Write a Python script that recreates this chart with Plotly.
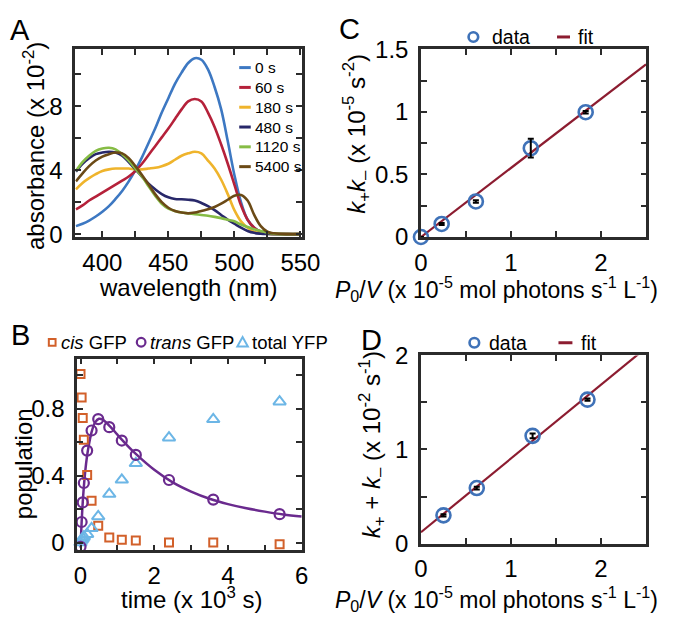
import plotly.graph_objects as go

W, H = 677, 629
FONT = "Liberation Sans, Arial, Helvetica, sans-serif"

# ---------------- Panel A data ----------------
wl = [380, 385, 390, 395, 400, 405, 410, 415, 420, 425, 430, 435, 440, 445, 450, 455, 460, 465,
      470, 475, 480, 485, 490, 495, 500, 505, 510, 515, 520, 525, 530, 540, 550]
abs_0s = [0.5, 0.65, 0.85, 1.1, 1.4, 1.75, 2.2, 2.7, 3.3, 4.0, 4.8, 5.7, 6.6, 7.6, 8.5, 9.4, 10.1, 10.7,
          11.0, 10.9, 10.3, 9.2, 7.8, 5.8, 3.7, 2.0, 0.9, 0.4, 0.15, 0.06, 0.02, 0.0, 0.0]
abs_60s = [1.55, 1.8, 2.1, 2.35, 2.6, 2.85, 3.1, 3.35, 3.6, 3.95, 4.4, 4.95, 5.5, 6.05, 6.6, 7.2, 7.8, 8.3,
           8.45, 8.3, 7.6, 6.7, 5.6, 4.4, 3.1, 1.8, 0.9, 0.4, 0.15, 0.05, 0.02, 0.0, 0.0]
abs_180s = [2.8, 3.2, 3.5, 3.75, 3.95, 4.05, 4.1, 4.1, 4.1, 4.05, 4.05, 4.1, 4.15, 4.25, 4.4, 4.65, 4.9, 5.05,
            5.15, 5.05, 4.6, 4.1, 3.4, 2.5, 1.5, 0.8, 0.4, 0.15, 0.05, 0.02, 0.0, 0.0, 0.0]
abs_480s = [3.9, 4.4, 4.75, 5.0, 5.1, 5.15, 5.1, 4.9, 4.5, 4.05, 3.6, 3.15, 2.8, 2.5, 2.3, 2.2, 2.18, 2.15,
            2.1, 1.95, 1.75, 1.5, 1.2, 0.9, 0.65, 0.4, 0.2, 0.08, 0.03, 0.01, 0.0, 0.0, 0.0]
abs_1120s = [3.95, 4.5, 4.9, 5.2, 5.35, 5.4, 5.3, 5.0, 4.6, 4.1, 3.6, 3.0, 2.4, 1.9, 1.6, 1.45, 1.35, 1.3,
             1.25, 1.2, 1.15, 1.08, 1.0, 0.9, 0.8, 0.6, 0.45, 0.3, 0.2, 0.1, 0.03, 0.0, 0.0]
abs_5400s = [3.3, 3.8, 4.25, 4.6, 4.85, 5.0, 5.1, 5.05, 4.75, 4.25, 3.7, 3.1, 2.5, 2.0, 1.65, 1.45, 1.35, 1.3,
             1.35, 1.45, 1.55, 1.7, 1.9, 2.15, 2.4, 2.45, 2.1, 1.2, 0.5, 0.15, 0.05, 0.0, 0.0]
spectra_names = ["0 s", "60 s", "180 s", "480 s", "1120 s", "5400 s"]
spectra_colors = ["#3d78c2", "#b5213a", "#efb42c", "#28286a", "#86bc45", "#6b4a16"]
a_xticks = [400, 425, 450, 475, 500, 525, 550]
a_xticktext = ["400", "", "450", "", "500", "", "550"]
a_yticks = [0, 2, 4, 6, 8, 10]
a_yticktext = ["0", "", "4", "", "8", ""]

# ---------------- Panel B data ----------------
t_kin = [0.0, 0.03, 0.06, 0.09, 0.18, 0.3, 0.48, 0.78, 1.12, 1.5, 2.4, 3.6, 5.4]
cis_gfp = [1.007, 0.867, 0.745, 0.615, 0.404, 0.25, 0.1, 0.03, 0.017, 0.013, 0.0, 0.0, -0.01]
trans_gfp = [-0.025, 0.123, 0.24, 0.356, 0.55, 0.67, 0.738, 0.69, 0.61, 0.524, 0.374, 0.257, 0.17]
total_yfp = [0.0, 0.015, 0.025, 0.035, 0.05, 0.085, 0.156, 0.29, 0.375, 0.474, 0.627, 0.737, 0.842]
t_fit = [0.0, 0.03, 0.06, 0.1, 0.15, 0.2, 0.3, 0.4, 0.5, 0.6, 0.8, 1.0, 1.25, 1.5, 2.0, 2.5, 3.0,
         3.5, 4.0, 4.5, 5.0, 5.5, 6.0]
trans_fit = [-0.03, 0.12, 0.24, 0.36, 0.47, 0.55, 0.66, 0.72, 0.74, 0.735, 0.695, 0.645, 0.585,
             0.53, 0.435, 0.36, 0.305, 0.262, 0.23, 0.205, 0.185, 0.168, 0.156]
b_xticks = [0, 1, 2, 3, 4, 5, 6]
b_xticktext = ["0", "", "2", "", "4", "", "6"]
b_yticks = [0, 0.2, 0.4, 0.6, 0.8, 1.0]
b_yticktext = ["0", "", "0.4", "", "0.8", ""]

# ---------------- Panel C data ----------------
c_x = [0.0, 0.23, 0.61, 1.22, 1.83]
c_y = [0.0, 0.104, 0.284, 0.71, 0.998]
c_err = [0.0, 0.008, 0.01, 0.075, 0.01]
c_fit_x = [0.0, 2.5]
c_fit_y = [0.0, 1.38]
c_xticks = [0, 0.5, 1, 1.5, 2, 2.5]
c_xticktext = ["0", "", "1", "", "2", ""]
c_yticks = [0, 0.25, 0.5, 0.75, 1.0, 1.25, 1.5]
c_yticktext = ["0", "", "0.5", "", "1", "", "1.5"]

# ---------------- Panel D data ----------------
d_x = [0.25, 0.62, 1.24, 1.85]
d_y = [0.3, 0.59, 1.145, 1.53]
d_err = [0.012, 0.015, 0.025, 0.012]
d_fit_x = [0.0, 2.5]
d_fit_y = [0.12, 2.08]
d_xticks = [0, 0.5, 1, 1.5, 2, 2.5]
d_xticktext = ["0", "", "1", "", "2", ""]
d_yticks = [0, 0.5, 1, 1.5, 2]
d_yticktext = ["0", "", "1", "", "2"]

AXC = "#2b2b2b"
DATA_BLUE = "#3f72b8"
FIT_RED = "#8c1c30"
ORANGE = "#d2602a"
PURPLE = "#6a2a8e"
LIGHTBLUE = "#6cb6e6"


def px_x(p):
    return p / W


def px_y(p):
    return 1 - p / H


def axis(dom, rng, tv, tt, anchor, is_y):
    d = dict(domain=dom, range=rng, anchor=anchor, tickmode="array", tickvals=tv, ticktext=tt,
             showline=True, linecolor=AXC, linewidth=2.5, mirror="allticks", ticks="inside",
             ticklen=6, tickwidth=2, tickcolor=AXC, showgrid=False, zeroline=False,
             tickfont=dict(size=24, color="black", family=FONT), fixedrange=True)
    d["ticklabelstandoff"] = 5 if is_y else 2
    return d


fig = go.Figure()

# Panel A
for name, ys, col in zip(spectra_names, [abs_0s, abs_60s, abs_180s, abs_480s, abs_1120s, abs_5400s],
                         spectra_colors):
    fig.add_trace(go.Scatter(x=wl, y=ys, mode="lines", line=dict(color=col, width=2.6, shape="spline"),
                             xaxis="x", yaxis="y", showlegend=False, name=name))

# Panel B
fig.add_trace(go.Scatter(x=t_fit, y=trans_fit, mode="lines", line=dict(color=PURPLE, width=2.5, shape="spline"),
                         xaxis="x2", yaxis="y2", showlegend=False))
fig.add_trace(go.Scatter(x=t_kin, y=cis_gfp, mode="markers", cliponaxis=False,
                         marker=dict(symbol="square-open", size=8, color=ORANGE, line=dict(width=2, color=ORANGE)),
                         xaxis="x2", yaxis="y2", showlegend=False))
fig.add_trace(go.Scatter(x=t_kin, y=total_yfp, mode="markers", cliponaxis=False,
                         marker=dict(symbol="triangle-up-open", size=11, color=LIGHTBLUE,
                                     line=dict(width=2, color=LIGHTBLUE)),
                         xaxis="x2", yaxis="y2", showlegend=False))
fig.add_trace(go.Scatter(x=t_kin, y=trans_gfp, mode="markers", cliponaxis=False,
                         marker=dict(symbol="circle-open", size=10, color=PURPLE, line=dict(width=2.2, color=PURPLE)),
                         xaxis="x2", yaxis="y2", showlegend=False))

# Panel C
fig.add_trace(go.Scatter(x=c_fit_x, y=c_fit_y, mode="lines", line=dict(color=FIT_RED, width=2.2),
                         xaxis="x3", yaxis="y3", showlegend=False))
fig.add_trace(go.Scatter(x=c_x, y=c_y, mode="markers", cliponaxis=False,
                         marker=dict(symbol="circle-open", size=14, color=DATA_BLUE, line=dict(width=2.6, color=DATA_BLUE)),
                         xaxis="x3", yaxis="y3", showlegend=False))
fig.add_trace(go.Scatter(x=c_x, y=c_y, mode="markers", cliponaxis=False,
                         marker=dict(size=0.1, color="black"),
                         error_y=dict(type="data", array=c_err, color="black", thickness=2, width=3),
                         xaxis="x3", yaxis="y3", showlegend=False))

# Panel D
fig.add_trace(go.Scatter(x=d_fit_x, y=d_fit_y, mode="lines", line=dict(color=FIT_RED, width=2.2),
                         xaxis="x4", yaxis="y4", showlegend=False))
fig.add_trace(go.Scatter(x=d_x, y=d_y, mode="markers", cliponaxis=False,
                         marker=dict(symbol="circle-open", size=14, color=DATA_BLUE, line=dict(width=2.6, color=DATA_BLUE)),
                         xaxis="x4", yaxis="y4", showlegend=False))
fig.add_trace(go.Scatter(x=d_x, y=d_y, mode="markers", cliponaxis=False,
                         marker=dict(size=0.1, color="black"),
                         error_y=dict(type="data", array=d_err, color="black", thickness=2, width=3),
                         xaxis="x4", yaxis="y4", showlegend=False))

domA_x = [px_x(71), px_x(306.5)]
domA_y = [px_y(233), px_y(37)]
domB_x = [px_x(73), px_x(306.5)]
domB_y = [px_y(560.5), px_y(360)]
domC_x = [px_x(430.5), px_x(665)]
domC_y = [px_y(233), px_y(37)]
domD_x = [px_x(430.5), px_x(665)]
domD_y = [px_y(553.3), px_y(356.7)]

layout = dict(
    width=W, height=H, margin=dict(l=0, r=0, t=0, b=0),
    paper_bgcolor="white", plot_bgcolor="white",
    font=dict(family=FONT, color="black", size=24),
    showlegend=False,
    xaxis=axis(domA_x, [379.5, 551], a_xticks, a_xticktext, "y", False),
    yaxis=axis(domA_y, [-0.18, 11.55], a_yticks, a_yticktext, "x", True),
    xaxis2=axis(domB_x, [-0.09, 6], b_xticks, b_xticktext, "y2", False),
    yaxis2=axis(domB_y, [-0.047, 1.1], b_yticks, b_yticktext, "x2", True),
    xaxis3=axis(domC_x, [0, 2.505], c_xticks, c_xticktext, "y3", False),
    yaxis3=axis(domC_y, [0, 1.5], c_yticks, c_yticktext, "x3", True),
    xaxis4=axis(domD_x, [0, 2.505], d_xticks, d_xticktext, "y4", False),
    yaxis4=axis(domD_y, [0, 2.0], d_yticks, d_yticktext, "x4", True),
)
fig.update_layout(**layout)

ann = []
shapes = []


def text(x, y, s, size=24, angle=0, xanchor="center"):
    ann.append(dict(x=px_x(x), y=px_y(y), xref="paper", yref="paper", text=s, showarrow=False,
                    font=dict(size=size, family=FONT, color="black"), textangle=angle,
                    xanchor=xanchor, yanchor="middle"))


# panel letters
text(14, 17, "A", 29)
text(14, 335, "B", 29)
text(356, 16, "C", 29)
text(379, 341, "D", 29)

# axis titles
text(28, 138, "absorbance (x 10<sup>-2</sup>)", 24, -90)
text(188, 286, "wavelength (nm)", 24)
text(17, 470, "population", 24, -90)
text(192, 610, "time (x 10<sup>3</sup> s)", 24)
text(363, 125, "<i>k</i><sub>+</sub><i>k</i><sub>\u2013</sub> (x 10<sup>-5</sup> s<sup>-2</sup>)", 24, -90)
text(509, 287, "<i>P</i><sub>0</sub>/<i>V</i> (x 10<sup>-5</sup> mol photons s<sup>-1</sup> L<sup>-1</sup>)", 23)
text(379, 450, "<i>k</i><sub>+</sub> + <i>k</i><sub>\u2013</sub> (x 10<sup>-2</sup> s<sup>-1</sup>)", 24, -90)
text(509, 611, "<i>P</i><sub>0</sub>/<i>V</i> (x 10<sup>-5</sup> mol photons s<sup>-1</sup> L<sup>-1</sup>)", 23)

# Panel A legend
leg_y0, leg_dy = 56, 20.7
for i, (name, col) in enumerate(zip(spectra_names, spectra_colors)):
    yy = leg_y0 + i * leg_dy
    shapes.append(dict(type="line", xref="paper", yref="paper", x0=px_x(241.5), x1=px_x(253.5),
                       y0=px_y(yy), y1=px_y(yy), line=dict(color=col, width=3)))
    text(255.5, yy, name, 15.5, 0, "left")

# Panel B legend (above plot)
ly = 343
shapes.append(dict(type="rect", xref="paper", yref="paper", x0=px_x(43.5), x1=px_x(50.5),
                   y0=px_y(346.5), y1=px_y(339.5), line=dict(color=ORANGE, width=2)))
text(54, ly, "<i>cis</i> GFP", 18.5, 0, "left")
shapes.append(dict(type="circle", xref="paper", yref="paper", x0=px_x(135), x1=px_x(144),
                   y0=px_y(347.5), y1=px_y(338.5), line=dict(color=PURPLE, width=2.2)))
text(147, ly, "<i>trans</i> GFP", 18.5, 0, "left")
shapes.append(dict(type="path", xref="paper", yref="paper",
                   path="M {:.5f} {:.5f} L {:.5f} {:.5f} L {:.5f} {:.5f} Z".format(
                       px_x(239.5), px_y(347.5), px_x(250.5), px_y(347.5), px_x(245), px_y(337.5)),
                   line=dict(color=LIGHTBLUE, width=2)))
text(253, ly, "total YFP", 18.5, 0, "left")

# Panels C and D legends
for (cy, cx, lx0, lx1, tx, fx) in [(24, 485, 572, 585.5, 502, 591.5), (343.5, 486, 573.5, 588, 499, 594.5)]:
    shapes.append(dict(type="circle", xref="paper", yref="paper", x0=px_x(cx - 5), x1=px_x(cx + 5),
                       y0=px_y(cy + 5), y1=px_y(cy - 5), line=dict(color=DATA_BLUE, width=2.6)))
    text(tx, cy, "data", 19.5, 0, "left")
    shapes.append(dict(type="line", xref="paper", yref="paper", x0=px_x(lx0), x1=px_x(lx1),
                       y0=px_y(cy), y1=px_y(cy), line=dict(color=FIT_RED, width=3)))
    text(fx, cy, "fit", 19.5, 0, "left")

fig.update_layout(annotations=ann, shapes=shapes)
fig.write_html("out.html", config={"displayModeBar": False},
               post_script="document.body.style.margin='0';document.body.style.padding='0';")
